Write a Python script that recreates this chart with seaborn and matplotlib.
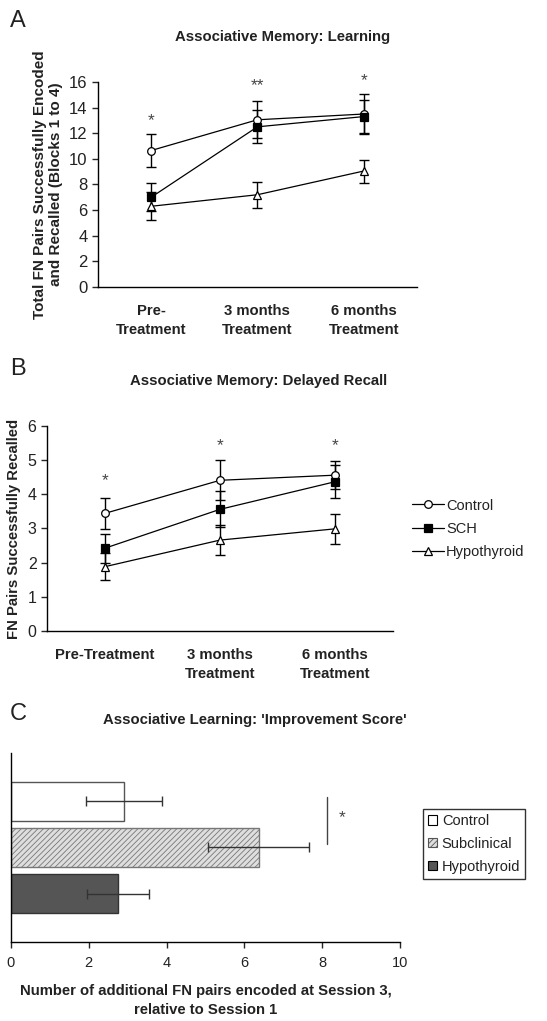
import numpy as np
import pandas as pd
import matplotlib
matplotlib.use("Agg")
import matplotlib.pyplot as plt
from matplotlib.patches import Patch
from matplotlib.lines import Line2D
import seaborn as sns

sns.set_style("ticks")
plt.rcParams['font.family'] = ['Liberation Sans', 'DejaVu Sans']
plt.rcParams['hatch.linewidth'] = 0.6

# ---- data ----
groups = ["Control", "SCH", "Hypothyroid"]
labels_a = ["Pre-\nTreatment", "3 months\nTreatment", "6 months\nTreatment"]
labels_b = ["Pre-Treatment", "3 months\nTreatment", "6 months\nTreatment"]

# A: associative memory learning (mean, sem)
learn_control = [10.65, 13.05, 13.5]
learn_control_err = [1.3, 1.45, 1.55]
learn_sch = [7.0, 12.5, 13.3]
learn_sch_err = [1.1, 1.3, 1.3]
learn_hypo = [6.3, 7.2, 9.05]
learn_hypo_err = [1.1, 1.0, 0.9]
learn_stars = ["*", "**", "*"]
learn_star_y = [13.0, 15.7, 16.1]

# B: delayed recall
recall_control = [3.44, 4.41, 4.56]
recall_control_err = [0.45, 0.58, 0.4]
recall_sch = [2.42, 3.56, 4.37]
recall_sch_err = [0.43, 0.53, 0.48]
recall_hypo = [1.88, 2.66, 2.99]
recall_hypo_err = [0.4, 0.43, 0.44]
recall_stars = ["*", "*", "*"]
recall_star_y = [4.4, 5.43, 5.43]

# C: improvement score
improve_groups = ["Control", "Subclinical", "Hypothyroid"]
improve = [2.9, 6.37, 2.76]
improve_err = [0.97, 1.3, 0.8]

markers = {"Control": "o", "SCH": "s", "Hypothyroid": "^"}
facecols = {"Control": "white", "SCH": "black", "Hypothyroid": "white"}

BOLD = 10.7
TXT = "#222222"

fig = plt.figure(figsize=(5.47, 10.21), dpi=100)


def line_panel(ax, series, errs, xlabels, stars, star_y, ylim, yticks, ysize):
    x = np.arange(len(xlabels))
    for g in groups:
        ax.errorbar(x, series[g], yerr=errs[g], fmt='none', ecolor='black',
                    elinewidth=1, capsize=3.8, capthick=1, zorder=2)
    for g in groups:
        df = pd.DataFrame({"x": x, "y": series[g]})
        sns.lineplot(data=df, x="x", y="y", ax=ax, color="black", lw=0.9,
                     marker=markers[g], markersize=5.5, mfc=facecols[g],
                     mec="black", mew=0.9, label=g, zorder=3)
    for xi, s, sy in zip(x, stars, star_y):
        ax.text(xi, sy, s, ha="center", va="center", fontsize=12.5,
                color="#444444", clip_on=False)
    ax.set_xlim(-0.5, 2.5)
    ax.set_ylim(*ylim)
    ax.set_yticks(yticks)
    ax.set_xticks(x)
    ax.set_xticklabels(xlabels, fontweight="bold", fontsize=BOLD, color=TXT,
                       linespacing=1.45)
    ax.tick_params(axis="x", length=0, pad=12)
    ax.tick_params(axis="y", length=4.5, width=1, labelsize=ysize,
                   labelcolor=TXT, pad=3)
    ax.set_xlabel("")
    sns.despine(ax=ax)
    for sp in ax.spines.values():
        sp.set_linewidth(1)
        sp.set_color("black")


# ---- Panel A ----
axA = fig.add_axes([0.179, 0.7189, 0.583, 0.2008])
line_panel(axA,
           {"Control": learn_control, "SCH": learn_sch, "Hypothyroid": learn_hypo},
           {"Control": learn_control_err, "SCH": learn_sch_err, "Hypothyroid": learn_hypo_err},
           labels_a, learn_stars, learn_star_y, (0, 16), range(0, 17, 2), 12)
axA.set_ylabel("Total FN Pairs Successfully Encoded\nand Recalled (Blocks 1 to 4)",
               fontweight="bold", fontsize=BOLD + 0.3, color=TXT, labelpad=4)
axA.get_legend().remove()

# ---- Panel B ----
axB = fig.add_axes([0.0859, 0.382, 0.6326, 0.2008])
line_panel(axB,
           {"Control": recall_control, "SCH": recall_sch, "Hypothyroid": recall_hypo},
           {"Control": recall_control_err, "SCH": recall_sch_err, "Hypothyroid": recall_hypo_err},
           labels_b, recall_stars, recall_star_y, (0, 6), range(0, 7), 11.5)
axB.set_ylabel("FN Pairs Successfully Recalled", fontweight="bold",
               fontsize=BOLD, color=TXT, labelpad=5)
axB.get_legend().remove()
handles_b = [Line2D([], [], color="black", lw=0.9, marker=markers[g],
                    markersize=5.5, mfc=facecols[g], mec="black", mew=0.9)
             for g in groups]
fig.legend(handles_b, groups, loc="center left", bbox_to_anchor=(0.753, 0.4819),
           frameon=False, fontsize=10.5, handlelength=2.2, handletextpad=0.15,
           borderpad=0, borderaxespad=0, labelspacing=0.65, labelcolor=TXT)

# ---- Panel C ----
axC = fig.add_axes([0.0201, 0.0774, 0.7112, 0.1851])
dfc = pd.DataFrame({"group": improve_groups, "score": improve})
sns.barplot(data=dfc, x="score", y="group", orient="h", ax=axC, width=0.85,
            hue="group", palette=["white", "#dedede", "#555555"], legend=False,
            saturation=1)
bar_edges = ["#555555", "#555555", "#333333"]
for p, ec in zip(axC.patches, bar_edges):
    p.set_edgecolor(ec)
    p.set_linewidth(1)
axC.patches[1].set_hatch("//////")
axC.patches[1].set_edgecolor("#777777")
axC.errorbar(improve, np.arange(len(improve)), xerr=improve_err, fmt="none",
             ecolor="#333333", elinewidth=1, capsize=3.5, capthick=1, zorder=3)
axC.plot([8.13, 8.13], [-0.1, 0.92], color="#444444", lw=1, clip_on=False)
axC.text(8.52, 0.36, "*", ha="center", va="center", fontsize=12.5, color="#444444")
axC.set_xlim(0, 10)
axC.set_ylim(3.05, -1.05)
axC.set_xticks(range(0, 11, 2))
axC.set_yticks([])
axC.set_ylabel("")
axC.set_xlabel("Number of additional FN pairs encoded at Session 3,\nrelative to Session 1",
               fontweight="bold", fontsize=BOLD, color=TXT, labelpad=10,
               linespacing=1.45)
axC.tick_params(axis="x", length=4, width=1, labelsize=10.5, labelcolor=TXT, pad=6)
sns.despine(ax=axC)
for sp in axC.spines.values():
    sp.set_linewidth(1)
    sp.set_color("black")
handles_c = [Patch(facecolor="white", edgecolor="black", lw=0.8),
             Patch(facecolor="#dedede", edgecolor="#555555", hatch="//////", lw=0.8),
             Patch(facecolor="#555555", edgecolor="black", lw=0.8)]
legC = fig.legend(handles_c, improve_groups, loc="upper left",
                  bbox_to_anchor=(0.773, 0.2076), frameon=True, fancybox=False,
                  fontsize=10.5, handlelength=0.6, handleheight=0.6,
                  handletextpad=0.35, borderpad=0.35, borderaxespad=0,
                  labelspacing=0.6, labelcolor=TXT, edgecolor="black")
legC.get_frame().set_linewidth(1)

# ---- titles and panel letters ----
fig.text(0.517, 0.9638, "Associative Memory: Learning", ha="center", va="center",
         fontweight="bold", fontsize=BOLD, color=TXT)
fig.text(0.472, 0.6268, "Associative Memory: Delayed Recall", ha="center",
         va="center", fontweight="bold", fontsize=BOLD, color=TXT)
fig.text(0.466, 0.2948, "Associative Learning: 'Improvement Score'", ha="center",
         va="center", fontweight="bold", fontsize=BOLD, color=TXT)
for letter, y in zip("ABC", [0.979, 0.6386, 0.3007]):
    fig.text(0.018, y, letter, ha="left", va="center", fontsize=17, color=TXT)

fig.savefig("out.png", dpi=100)
